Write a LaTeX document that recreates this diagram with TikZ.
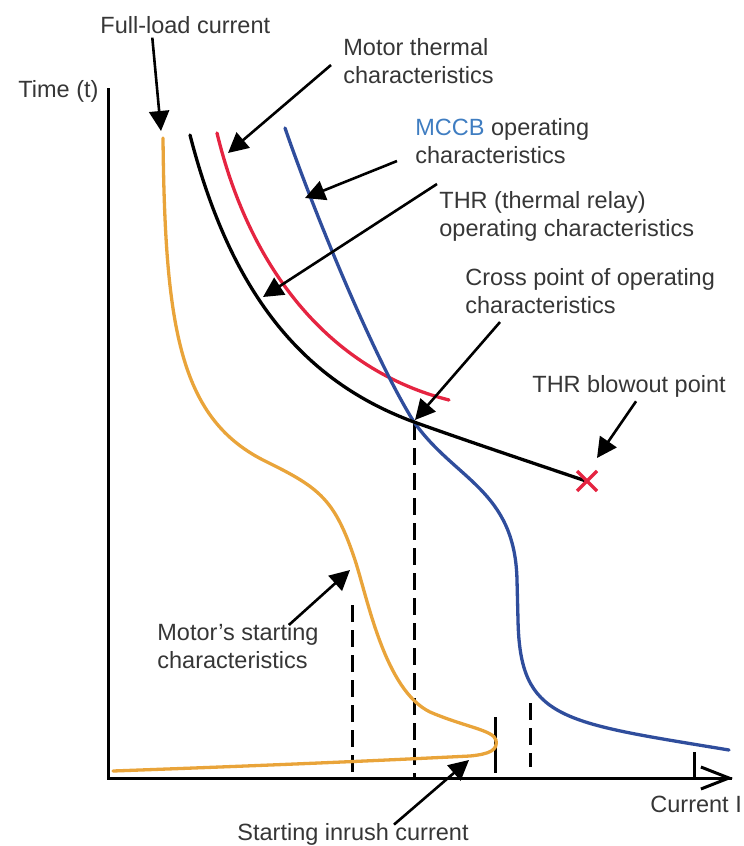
\documentclass[tikz,border=0pt]{standalone}
\usepackage{fontspec}
\setmainfont{Liberation Sans}
\usepackage{xcolor}
\usetikzlibrary{arrows.meta,positioning}
\definecolor{textgray}{HTML}{363636}
\definecolor{startorange}{HTML}{E9A43A}
\definecolor{thermred}{HTML}{E52441}
\definecolor{mccbblue}{HTML}{2F4D9C}
\definecolor{mccbtext}{HTML}{3F7DC1}
\newcommand{\lblfont}{\fontsize{23.5}{28}\selectfont}

\begin{document}
\begin{tikzpicture}[
        x = 1pt,
        y = -1pt,
        lbltext/.style = {font=\lblfont, align=left, inner sep=0pt, text=textgray},
        curve/.style = {line width=3.3pt, line cap=round},
        pointer/.style = {line width=2.6pt, -{Triangle[length=20pt,width=20pt]}},
        marker/.style = {line width=3pt, dash pattern=on 17pt off 8pt},
        tick/.style = {line width=3pt},
        thick]
        \useasboundingbox (0,0) rectangle (744,846);

        % AXES
        \draw[line width=3pt] (108,88) -- (108,778) -- (732,778);
        \draw[line width=3pt, -{Straight Barb[length=28pt,width=22pt]}] (600,778) -- (733,778);

        % GUIDES
        \draw[marker] (352,605) -- (352,778);
        \draw[marker] (414,423) -- (414,778);
        \draw[tick] (495,717) -- (495,773);
        \draw[marker] (530,703) -- (530,767);
        \draw[tick] (694,752) -- (694,778);

        % CURVES
        % motor starting
        \draw[curve, startorange] (163,138) .. controls (165,330) and (180,420) .. (267,462)
            .. controls (320,488) and (335,500) .. (355,560)
            .. controls (368,600) and (385,690) .. (430,712)
            .. controls (465,727) and (493,730) .. (496,740)
            .. controls (498,750) and (490,754) .. (470,756)
            .. controls (350,762) and (250,766) .. (113,771);
        % motor thermal
        \draw[curve, thermred] (217,133) .. controls (250,270) and (330,370) .. (449,400);
        % MCCB
        \draw[curve, mccbblue] (285,128) .. controls (315,215) and (375,360) .. (414,422)
            .. controls (455,480) and (515,490) .. (517,580)
            -- (518,620) .. controls (520,720) and (560,722) .. (729,750);
        % THR
        \draw[curve, black] (190,135) .. controls (230,290) and (300,380) .. (414,422)
            .. controls (470,442) and (530,462) .. (586,481);
        % blowout mark
        \draw[thermred, line width=3.4pt] (577,471) -- (597,491) (577,491) -- (597,471);

        % NODES
        \node[lbltext, anchor=base west] (timet) at (18,97) {Time (t)};
        \node[lbltext, anchor=base west] (fullload) at (100,33) {Full-load current};
        \node[lbltext, anchor=north west] (motortherm) at (343,38) {Motor thermal\\characteristics};
        \node[lbltext, anchor=north west] (mccb) at (415,118) {\textcolor{mccbtext}{MCCB} operating\\characteristics};
        \node[lbltext, anchor=north west] (thr) at (439,191) {THR (thermal relay)\\operating characteristics};
        \node[lbltext, anchor=north west] (cross) at (465,268) {Cross point of operating\\characteristics};
        \node[lbltext, anchor=base west] (blowout) at (532,392) {THR blowout point};
        \node[lbltext, anchor=north west] (mstart) at (157,623) {Motor's starting\\characteristics};
        \node[lbltext, anchor=base west] (inrush) at (237,840) {Starting inrush current};
        \node[lbltext, anchor=base west] (currenti) at (650,812) {Current I};

        % tips on the curves
        \coordinate (flctip) at (161,131);
        \coordinate (mthtip) at (228,153);
        \coordinate (mccbtip) at (305,198);
        \coordinate (thrtip) at (263,297);
        \coordinate (crosstip) at (415,420);
        \coordinate (blowtip) at (597,458);
        \coordinate (msttip) at (350,570);
        \coordinate (inrushtip) at (469,760);

        % ARROWS
        \draw[pointer] ([xshift=-33pt, yshift=-4pt]fullload.south) -- (flctip);
        \draw[pointer] ([xshift=-12pt, yshift=-4pt]motortherm.west) -- (mthtip);
        \draw[pointer] ([xshift=-18pt, yshift=-20pt]mccb.west) -- (mccbtip);
        \draw[pointer] ([xshift=-2pt, yshift=7pt]thr.north west) -- (thrtip);
        \draw[pointer] ([xshift=35pt, yshift=-8pt]cross.south west) -- (crosstip);
        \draw[pointer] ([xshift=7pt, yshift=-4pt]blowout.south) -- (blowtip);
        \draw[pointer] ([xshift=-30pt, yshift=-2pt]mstart.north east) -- (msttip);
        \draw[pointer] ([xshift=41pt, yshift=-2pt]inrush.north) -- (inrushtip);
    \end{tikzpicture}
\end{document}
